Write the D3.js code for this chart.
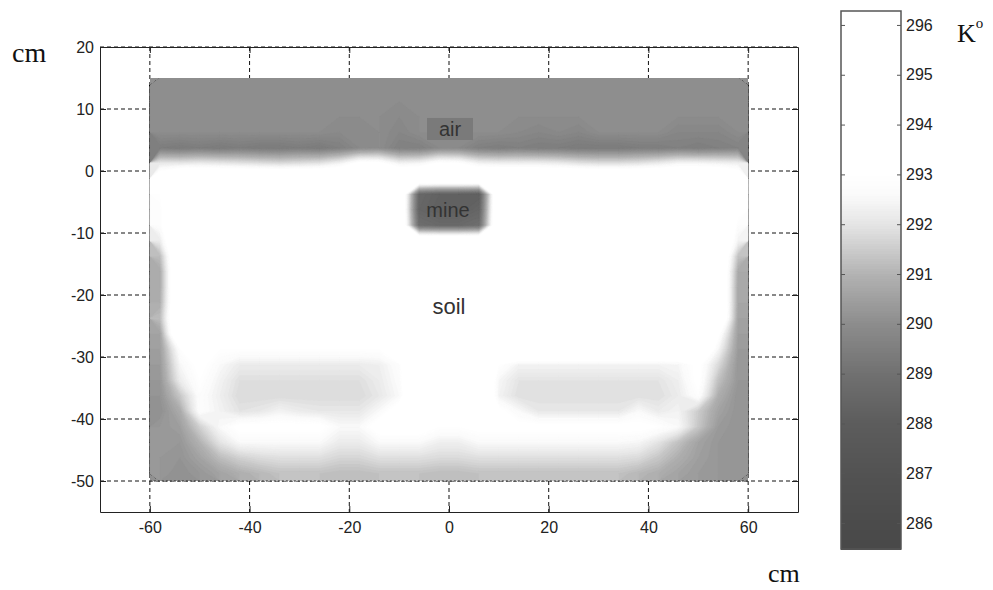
<!DOCTYPE html>
<html>
<head>
<meta charset="utf-8">
<script src="https://cdn.jsdelivr.net/npm/d3@7"></script>
<style>
  body { margin: 0; background: #fff; }
  svg { display: block; }
</style>
</head>
<body>
<div id="chart"></div>
<script>
// axis ticks
const xTicks = [-60, -40, -20, 0, 20, 40, 60];
const yTicks = [-50, -40, -30, -20, -10, 0, 10, 20];
const cbarTicks = [286, 287, 288, 289, 290, 291, 292, 293, 294, 295, 296];

// temperature grid (K), column centres in cm and row centres in cm
const gridX = [-58, -54, -50, -46, -42, -38, -34, -30, -26, -22, -18, -14, -10, -6, -2,
               2, 6, 10, 14, 18, 22, 26, 30, 34, 38, 42, 46, 50, 54, 58];
const gridY = [13.75, 11.25, 8.75, 6.25, 3.75, 1.25, -1.25, -3.75, -6.25, -8.75, -11.25, -13.75, -16.25,
               -18.75, -21.25, -23.75, -26.25, -28.75, -31.25, -33.75, -36.25, -38.75, -41.25, -43.75, -46.25, -48.75];

const temps = [
  [290.0,290.0,290.0,290.0,290.0,290.0,290.0,290.0,290.0,290.0,290.0,290.0,290.0,290.0,290.0,290.0,290.0,290.0,290.0,290.0,290.0,290.0,290.0,290.0,290.0,290.0,290.0,290.0,290.0,290.0],
  [290.0,290.0,290.0,290.0,290.0,290.0,290.0,290.0,290.0,290.0,290.0,290.0,290.0,290.0,290.0,290.0,290.0,290.0,290.0,290.0,290.0,290.0,290.0,290.0,290.0,290.0,290.0,290.0,290.0,290.0],
  [290.0,290.0,290.0,290.0,290.0,290.0,290.0,290.0,290.0,290.0,290.0,290.0,289.9,290.0,290.0,290.0,290.0,290.0,290.0,290.0,290.0,290.0,290.0,290.0,290.0,290.0,290.0,290.0,290.0,290.0],
  [290.0,290.0,290.0,290.0,290.0,290.0,290.0,290.0,290.0,289.9,289.9,290.0,289.8,290.0,290.0,290.0,290.0,290.0,289.9,289.8,289.9,289.8,290.0,290.0,290.0,290.0,289.8,289.8,289.8,290.0],
  [289.5,289.4,289.5,289.4,289.5,289.4,289.4,289.5,289.4,289.6,289.9,290.0,289.6,289.6,289.9,289.9,289.6,289.5,289.6,289.5,289.5,289.4,289.4,289.4,289.5,289.5,289.6,289.5,289.6,289.7],
  [292.1,292.1,292.2,292.1,292.0,291.9,291.8,291.9,292.0,292.4,293.2,293.2,292.4,292.5,293.1,293.0,292.4,292.3,292.3,292.3,292.2,292.0,291.9,291.9,292.0,292.2,292.5,292.5,292.4,292.3],
  [293.8,294.8,294.8,294.8,294.8,294.8,294.8,294.8,294.8,294.8,294.8,294.8,294.8,294.8,294.8,294.8,294.8,294.8,294.8,294.8,294.8,294.8,294.8,294.8,294.8,294.8,294.8,294.8,294.8,294.0],
  [293.0,294.8,294.8,294.8,294.8,294.8,294.8,294.8,294.8,294.8,294.8,294.8,294.8,288.6,288.3,288.3,288.2,294.8,294.8,294.8,294.8,294.8,294.8,294.8,294.8,294.8,294.8,294.8,294.8,293.5],
  [292.8,294.8,294.8,294.8,294.8,294.8,294.8,294.8,294.8,294.8,294.8,294.8,294.8,288.5,288.2,288.2,288.5,294.8,294.8,294.8,294.8,294.8,294.8,294.8,294.8,294.8,294.8,294.8,294.8,293.2],
  [292.8,294.8,294.8,294.8,294.8,294.8,294.8,294.8,294.8,294.8,294.8,294.8,294.8,288.9,288.7,288.7,288.9,294.8,294.8,294.8,294.8,294.8,294.8,294.8,294.8,294.8,294.8,294.8,294.8,292.8],
  [292.2,294.8,294.8,294.8,294.8,294.8,294.8,294.8,294.8,294.8,294.8,294.8,294.8,294.8,294.8,294.8,294.8,294.8,294.8,294.8,294.8,294.8,294.8,294.8,294.8,294.8,294.8,294.8,294.8,292.4],
  [291.2,294.8,294.8,294.8,294.8,294.8,294.8,294.8,294.8,294.8,294.8,294.8,294.8,294.8,294.8,294.8,294.8,294.8,294.8,294.8,294.8,294.8,294.8,294.8,294.8,294.8,294.8,294.8,294.8,291.3],
  [290.8,294.8,294.8,294.8,294.8,294.8,294.8,294.8,294.8,294.8,294.8,294.8,294.8,294.8,294.8,294.8,294.8,294.8,294.8,294.8,294.8,294.8,294.8,294.8,294.8,294.8,294.8,294.8,294.8,290.8],
  [290.8,294.8,294.8,294.8,294.8,294.8,294.8,294.8,294.8,294.8,294.8,294.8,294.8,294.8,294.8,294.8,294.8,294.8,294.8,294.8,294.8,294.8,294.8,294.8,294.8,294.8,294.8,294.8,294.8,290.7],
  [290.9,294.8,294.8,294.8,294.8,294.8,294.8,294.8,294.8,294.8,294.8,294.8,294.8,294.8,294.8,294.8,294.8,294.8,294.8,294.8,294.8,294.8,294.8,294.8,294.8,294.8,294.8,294.8,294.8,290.7],
  [291.2,294.8,294.8,294.8,294.8,294.8,294.8,294.8,294.8,294.8,294.8,294.8,294.8,294.8,294.8,294.8,294.8,294.8,294.8,294.8,294.8,294.8,294.8,294.8,294.8,294.8,294.8,294.8,294.8,290.6],
  [290.6,294.8,294.8,294.8,294.8,294.8,294.8,294.8,294.8,294.8,294.8,294.8,294.8,294.8,294.8,294.8,294.8,294.8,294.8,294.8,294.8,294.8,294.8,294.8,294.8,294.8,294.8,294.8,293.2,290.5],
  [290.5,292.9,294.8,293.0,293.0,293.0,293.0,293.0,293.0,293.0,293.0,293.0,294.8,294.8,294.8,294.8,294.8,294.8,294.8,294.8,294.8,294.8,294.8,294.8,294.8,294.8,294.8,294.8,292.5,290.4],
  [290.4,292.5,293.2,292.6,292.2,292.2,292.2,292.2,292.2,292.2,292.2,292.3,292.8,294.8,294.8,294.8,294.8,293.0,292.4,292.4,292.4,292.4,292.4,292.4,292.4,292.4,292.5,293.2,291.8,290.3],
  [290.3,292.2,293.0,292.4,291.9,291.9,291.9,291.9,291.9,291.9,291.9,292.2,292.7,294.8,294.8,294.8,294.8,292.5,292.0,292.0,292.0,292.0,292.0,292.0,292.0,292.0,292.3,293.2,291.3,290.3],
  [290.2,291.4,292.8,292.3,291.8,291.8,291.8,291.8,291.8,291.8,291.8,292.1,292.6,294.8,294.8,294.8,294.8,292.4,291.9,291.9,291.9,291.9,291.9,291.9,291.9,291.9,292.2,292.9,290.9,290.2],
  [290.1,290.8,292.8,292.4,292.0,292.1,292.4,292.2,292.1,292.1,292.1,292.6,293.5,294.8,294.8,294.8,294.8,293.2,292.6,292.1,292.1,292.1,292.1,292.1,292.6,292.2,292.4,291.5,290.6,290.2],
  [290.3,290.5,291.6,292.6,293.2,293.2,293.2,293.2,293.2,292.6,292.6,293.4,293.4,293.4,293.0,293.0,293.2,293.2,293.2,293.2,293.2,293.2,293.2,293.2,293.2,293.0,292.6,291.4,290.4,290.2],
  [290.3,290.3,291.0,292.0,292.6,292.6,292.6,292.6,292.6,292.2,292.2,292.6,292.6,292.6,292.3,292.3,292.6,292.6,292.6,292.6,292.6,292.6,292.6,292.6,292.5,292.0,291.3,290.6,290.3,290.2],
  [290.3,290.2,290.6,291.2,291.6,291.8,291.9,291.9,291.9,291.7,291.7,291.9,291.9,291.9,291.8,291.8,291.9,291.9,291.9,291.9,291.9,291.9,291.9,291.9,291.8,291.4,290.9,290.5,290.3,290.2],
  [290.3,290.1,290.3,290.6,290.9,291.1,291.3,291.3,291.3,291.2,291.2,291.3,291.3,291.3,291.2,291.2,291.3,291.3,291.3,291.3,291.3,291.3,291.3,291.3,291.1,290.9,290.6,290.4,290.3,290.2]
];

// grey colour map (temperature -> grey level)
const cmapTemp = [285.4, 286, 287, 288, 289, 290, 291, 292, 292.6, 293, 296.4];
const cmapGray = [72, 75, 82, 92, 112, 140, 178, 228, 250, 255, 255];

// in-plot annotations (cm)
const annotations = [
  { text: "air", x: 0.2, y: 5.6, size: 20, box: [-4.4, 8.55, 4.8, 5.0] },
  { text: "mine", x: -0.2, y: -7.4, size: 20 },
  { text: "soil", x: 0, y: -23.0, size: 22 }
];

const width = 993, height = 590;
const plot = { left: 100, right: 798, top: 47, bottom: 512 };
const cbar = { left: 841, right: 901, top: 11, bottom: 549 };
const sansFont = '"Liberation Sans", Arial, sans-serif';
const serifFont = '"Liberation Serif", "Times New Roman", serif';

const svg = d3.select("#chart").append("svg")
  .attr("width", width)
  .attr("height", height);

const x = d3.scaleLinear().domain([-70, 70]).range([plot.left, plot.right]);
const y = d3.scaleLinear().domain([-55, 20]).range([plot.bottom, plot.top]);

const gray = d3.scaleLinear().domain(cmapTemp).range(cmapGray).clamp(true);
const colorOf = (t) => { const g = Math.round(gray(t)); return d3.rgb(g, g, g).formatHex(); };

// dashed grid (drawn under the image like matlab)
svg.append("g").selectAll("line")
  .data(xTicks)
  .join("line")
  .attr("x1", (d) => x(d)).attr("x2", (d) => x(d))
  .attr("y1", plot.top).attr("y2", plot.bottom)
  .attr("stroke", "#111").attr("stroke-dasharray", "4,3");

svg.append("g").selectAll("line")
  .data(yTicks)
  .join("line")
  .attr("x1", plot.left).attr("x2", plot.right)
  .attr("y1", (d) => y(d)).attr("y2", (d) => y(d))
  .attr("stroke", "#111").attr("stroke-dasharray", "4,3");

// filled contours of the temperature field
const nx = gridX.length, ny = gridY.length;
const dx = gridX[1] - gridX[0], dy = gridY[0] - gridY[1];
const x0 = gridX[0] - dx / 2, y0 = gridY[0] + dy / 2;
const thresholds = d3.range(2854, 2964, 1).map((d) => d / 10);
const bands = d3.contours().size([nx, ny]).thresholds(thresholds)(temps.flat());

const proj = d3.geoTransform({
  point(u, v) { this.stream.point(x(x0 + u * dx), y(y0 - v * dy)); }
});
const path = d3.geoPath(proj);

svg.append("clipPath").attr("id", "dataClip")
  .append("rect")
  .attr("x", x(x0)).attr("y", y(y0))
  .attr("width", x(x0 + nx * dx) - x(x0))
  .attr("height", y(y0 - ny * dy) - y(y0));

const field = svg.append("g").attr("clip-path", "url(#dataClip)");

// corner fill so the contour corners are not left blank
field.append("rect")
  .attr("x", x(x0)).attr("y", y(y0))
  .attr("width", x(x0 + nx * dx) - x(x0))
  .attr("height", y(y0 - ny * dy) - y(y0))
  .attr("fill", colorOf(290.1));

field.selectAll("path")
  .data(bands)
  .join("path")
  .attr("d", path)
  .attr("fill", (d) => colorOf(d.value + 0.05))
  .attr("stroke", (d) => colorOf(d.value + 0.05))
  .attr("stroke-width", 0.3);

// dotted line along the bottom edge of the field
svg.append("line")
  .attr("x1", x(x0)).attr("x2", x(x0 + nx * dx))
  .attr("y1", y(-50)).attr("y2", y(-50))
  .attr("stroke", "#222").attr("stroke-dasharray", "2,2");

// annotations
annotations.forEach((a) => {
  if (a.box) {
    svg.append("rect")
      .attr("x", x(a.box[0])).attr("y", y(a.box[1]))
      .attr("width", x(a.box[2]) - x(a.box[0]))
      .attr("height", y(a.box[3]) - y(a.box[1]))
      .attr("fill", "#7a7a7a");
  }
  svg.append("text")
    .attr("x", x(a.x)).attr("y", y(a.y))
    .attr("text-anchor", "middle")
    .attr("font-family", sansFont)
    .attr("font-size", a.size)
    .attr("fill", "#333")
    .text(a.text);
});

// axes box with inward ticks
const plain = (d) => String(d);

function styleAxis(g) {
  g.attr("font-family", sansFont).attr("font-size", 16);
  g.select(".domain").attr("stroke", "#222");
  g.selectAll(".tick line").attr("stroke", "#222");
  g.selectAll(".tick text").attr("fill", "#222");
}

svg.append("g")
  .attr("transform", `translate(0,${plot.bottom})`)
  .call(d3.axisBottom(x).tickValues(xTicks).tickFormat(plain).tickSizeInner(-6).tickSizeOuter(0).tickPadding(10))
  .call(styleAxis);
svg.append("g")
  .attr("transform", `translate(0,${plot.top})`)
  .call(d3.axisTop(x).tickValues(xTicks).tickSizeInner(-6).tickSizeOuter(0).tickFormat(""))
  .call(styleAxis);
svg.append("g")
  .attr("transform", `translate(${plot.left},0)`)
  .call(d3.axisLeft(y).tickValues(yTicks).tickFormat(plain).tickSizeInner(-6).tickSizeOuter(0).tickPadding(6))
  .call(styleAxis);
svg.append("g")
  .attr("transform", `translate(${plot.right},0)`)
  .call(d3.axisRight(y).tickValues(yTicks).tickSizeInner(-6).tickSizeOuter(0).tickFormat(""))
  .call(styleAxis);

// colour bar
const cy = d3.scaleLinear().domain([285.48, 296.28]).range([cbar.bottom, cbar.top]);
const cbSteps = d3.range(28548, 29628, 5).map((d) => d / 100);

svg.append("g")
  .attr("shape-rendering", "crispEdges")
  .selectAll("rect")
  .data(cbSteps)
  .join("rect")
  .attr("x", cbar.left)
  .attr("width", cbar.right - cbar.left)
  .attr("y", (d) => cy(Math.min(d + 0.05, 296.28)))
  .attr("height", (d) => cy(d) - cy(Math.min(d + 0.05, 296.28)) + 1)
  .attr("fill", (d) => colorOf(d + 0.025));

svg.append("g")
  .attr("transform", `translate(${cbar.right},0)`)
  .call(d3.axisRight(cy).tickValues(cbarTicks).tickFormat(plain).tickSizeInner(-4).tickSizeOuter(0).tickPadding(5))
  .call(styleAxis)
  .call((g) => g.select(".domain").remove())
  .call((g) => g.selectAll(".tick line").attr("stroke", "#555"));
svg.append("g")
  .attr("transform", `translate(${cbar.left},0)`)
  .call(d3.axisLeft(cy).tickValues(cbarTicks).tickSizeInner(-4).tickSizeOuter(0).tickFormat(""))
  .call((g) => g.select(".domain").remove())
  .call((g) => g.selectAll(".tick line").attr("stroke", "#555"));

svg.append("rect")
  .attr("x", cbar.left).attr("y", cbar.top)
  .attr("width", cbar.right - cbar.left)
  .attr("height", cbar.bottom - cbar.top)
  .attr("fill", "none")
  .attr("stroke", "#555")
  .attr("stroke-width", 1.5);

// unit labels
svg.append("text")
  .attr("x", 12).attr("y", 62)
  .attr("font-family", serifFont).attr("font-size", 28).attr("fill", "#111")
  .text("cm");
svg.append("text")
  .attr("x", 768).attr("y", 582)
  .attr("font-family", serifFont).attr("font-size", 26).attr("fill", "#111")
  .text("cm");

const kLabel = svg.append("text")
  .attr("x", 957).attr("y", 42)
  .attr("font-family", serifFont).attr("font-size", 26).attr("fill", "#111");
kLabel.append("tspan").text("K");
kLabel.append("tspan").attr("dy", -14).attr("font-size", 15).text("o");
</script>
</body>
</html>
